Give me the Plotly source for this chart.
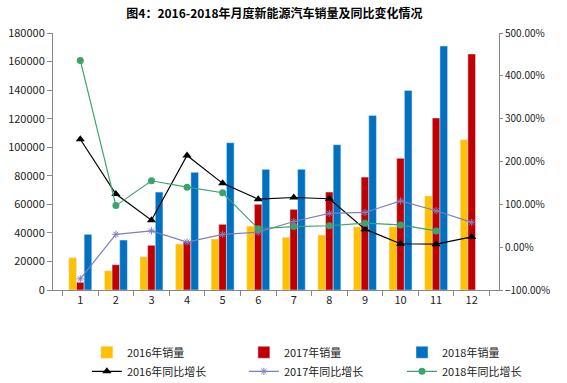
import plotly.graph_objects as go

months = ["1", "2", "3", "4", "5", "6", "7", "8", "9", "10", "11", "12"]
sales_2016 = [22600, 13500, 23300, 32200, 35700, 44800, 36900, 38500, 44300, 44300, 65800, 105300]
sales_2017 = [5400, 17700, 31300, 33800, 46000, 60000, 56500, 68600, 79100, 92200, 120500, 165300]
sales_2018 = [39000, 35000, 68600, 82400, 103200, 84500, 84500, 101800, 122300, 139800, 170900, None]
yoy_2016 = [2.52, 1.24, 0.63, 2.14, 1.49, 1.12, 1.16, 1.13, 0.42, 0.08, 0.07, 0.24]
yoy_2017 = [-0.74, 0.30, 0.38, 0.12, 0.30, 0.35, 0.60, 0.79, 0.81, 1.08, 0.85, 0.58]
yoy_2018 = [4.36, 0.97, 1.55, 1.40, 1.27, 0.43, 0.48, 0.50, 0.56, 0.52, 0.38, None]

FONT = "Noto Sans CJK SC"

fig = go.Figure()
fig.add_trace(go.Bar(x=months, y=sales_2016, name="2016年销量", marker_color="#FFC000",
                     legend="legend"))
fig.add_trace(go.Bar(x=months, y=sales_2017, name="2017年销量", marker_color="#C00000",
                     legend="legend2"))
fig.add_trace(go.Bar(x=months, y=sales_2018, name="2018年销量", marker_color="#0070C0",
                     legend="legend3"))
fig.add_trace(go.Scatter(x=months, y=yoy_2016, name="2016年同比增长", yaxis="y2",
                         mode="lines+markers", line=dict(color="#000000", width=1.2),
                         marker=dict(symbol="triangle-up", size=8, color="#000000"),
                         legend="legend"))
fig.add_trace(go.Scatter(x=months, y=yoy_2017, name="2017年同比增长", yaxis="y2",
                         mode="lines+markers", line=dict(color="#7F7FC0", width=1.2),
                         marker=dict(symbol="asterisk-open", size=6, color="#7F7FC0",
                                     line=dict(color="#7F7FC0", width=1)),
                         legend="legend2"))
fig.add_trace(go.Scatter(x=months, y=yoy_2018, name="2018年同比增长", yaxis="y2",
                         mode="lines+markers", line=dict(color="#3CA36E", width=1.2),
                         marker=dict(symbol="circle", size=7, color="#3CA36E"),
                         legend="legend3"))

leg_common = dict(orientation="v", yanchor="top", y=-0.186, xanchor="left",
                  traceorder="normal", font=dict(size=11), itemwidth=30,
                  tracegroupgap=0, bgcolor="rgba(0,0,0,0)")

fig.update_layout(
    width=567, height=383,
    margin=dict(l=53, r=68, t=33, b=93, autoexpand=False),
    paper_bgcolor="white", plot_bgcolor="white",
    font=dict(family=FONT, size=11, color="#222222"),
    title=dict(text="<b>图4：2016-2018年月度新能源汽车销量及同比变化情况</b>",
               x=0.484, xanchor="center", y=0.963, yanchor="middle",
               font=dict(family=FONT, size=12, color="#000000")),
    barmode="group", bargap=0.355, bargroupgap=0,
    xaxis=dict(type="category", showline=True, linecolor="#888888", linewidth=1,
               ticks="outside", tickson="boundaries", ticklen=5, tickcolor="#888888",
               showgrid=False, tickfont=dict(size=11)),
    yaxis=dict(range=[0, 180000], dtick=20000, tickformat="d", showline=True,
               linecolor="#888888", linewidth=1, ticks="outside", ticklen=5,
               tickcolor="#888888", showgrid=False, zeroline=False, tickfont=dict(size=11)),
    yaxis2=dict(range=[-1, 5], dtick=1, tickformat=".2%", overlaying="y", side="right",
                showline=True, linecolor="#888888", linewidth=1, ticks="outside",
                ticklen=3, tickcolor="#888888", showgrid=False, zeroline=False,
                tickfont=dict(size=10)),
    legend=dict(x=0.076, **leg_common),
    legend2=dict(x=0.428, **leg_common),
    legend3=dict(x=0.7825, **leg_common),
    showlegend=True,
)

fig.write_html("out.html", config={"displayModeBar": False},
               post_script="document.body.style.margin='0';document.body.style.overflow='hidden';")
